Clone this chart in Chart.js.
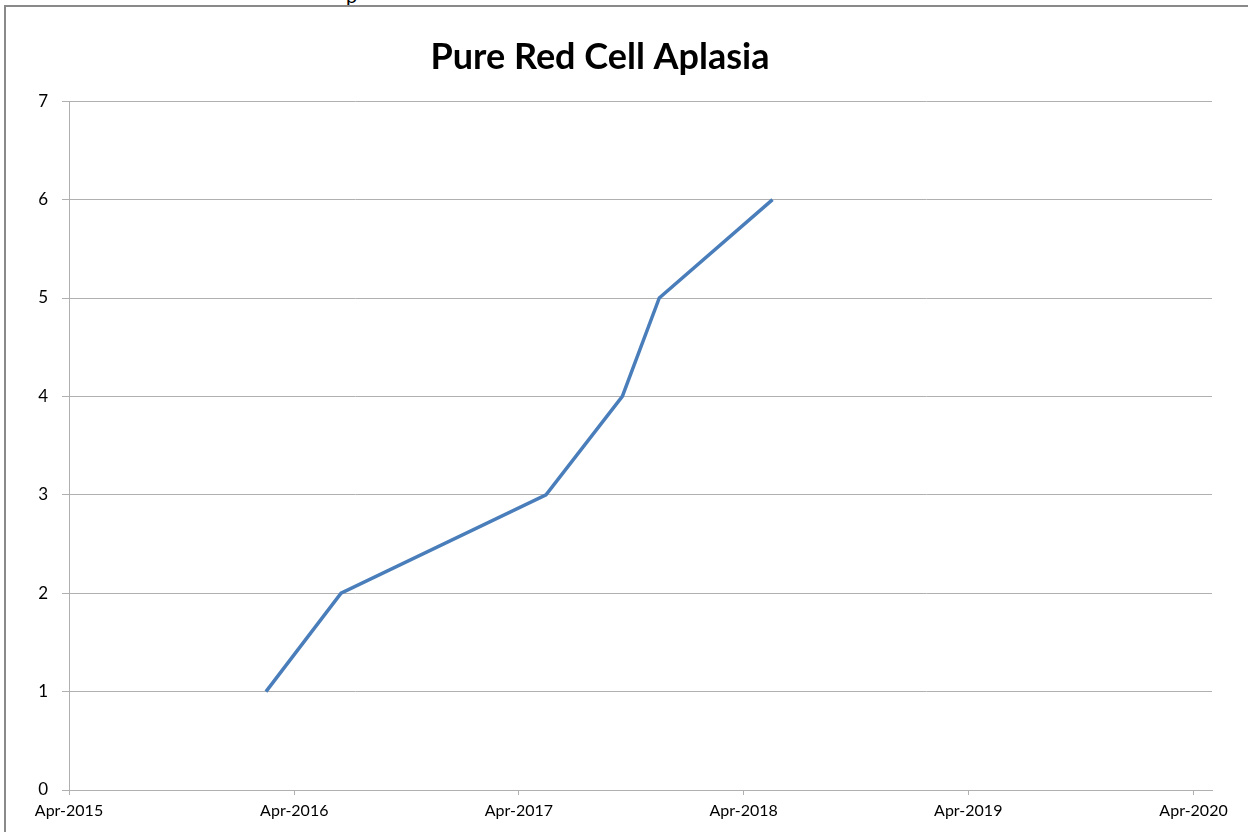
<!DOCTYPE html>
<html>
<head>
<meta charset="utf-8">
<script src="https://cdn.jsdelivr.net/npm/chart.js@4"></script>
<style>
  html, body { margin: 0; padding: 0; background: #fff; overflow: hidden; }
  #wrap { position: relative; width: 1248px; height: 832px; overflow: hidden; }
  #frame { position: absolute; left: 4px; top: 5px; width: 1300px; height: 900px; border: 2px solid #8a8a8a; box-sizing: border-box; }
  #cut { position: absolute; left: 346px; top: -17px; font: 20px Lato, sans-serif; color: #000; }
  canvas { position: absolute; left: 0; top: 0; }
</style>
</head>
<body>
<div id="wrap">
  <div id="cut">p</div>
  <div id="frame"></div>
  <canvas id="c" width="1248" height="832"></canvas>
</div>
<script>
const chartTitle = 'Pure Red Cell Aplasia';
const pointDates = ['2016-02-15', '2016-06-16', '2017-05-15', '2017-09-16', '2017-11-15', '2018-05-18'];
const caseCounts = [1, 2, 3, 4, 5, 6];
const tickDates = ['2015-04-01', '2016-04-01', '2017-04-01', '2018-04-01', '2019-04-01', '2020-04-01'];
const tickLabels = ['Apr-2015', 'Apr-2016', 'Apr-2017', 'Apr-2018', 'Apr-2019', 'Apr-2020'];
const axisStartDate = '2015-04-01';
const axisEndDate = '2020-05-01';

const DAY = 86400000;
const toDay = s => (Date.parse(s + 'T00:00:00Z') - Date.parse(axisStartDate + 'T00:00:00Z')) / DAY;
const tickDays = tickDates.map(toDay);
const points = pointDates.map((d, i) => ({ x: toDay(d), y: caseCounts[i] }));

new Chart(document.getElementById('c'), {
  type: 'line',
  data: {
    datasets: [{
      data: points,
      borderColor: '#4a7ebb',
      borderWidth: 3.5,
      pointRadius: 0,
      tension: 0,
      fill: false
    }]
  },
  options: {
    responsive: false,
    animation: false,
    layout: { padding: { left: -12, right: 36, top: 0, bottom: 0 } },
    plugins: {
      legend: { display: false },
      tooltip: { enabled: false },
      title: {
        display: true,
        text: chartTitle,
        color: '#000',
        font: { family: 'Lato', size: 36, weight: 'bold' },
        padding: { top: 36, bottom: 22 }
      }
    },
    scales: {
      x: {
        type: 'linear',
        min: 0,
        max: toDay(axisEndDate),
        afterBuildTicks: s => { s.ticks = tickDays.map(v => ({ value: v })); },
        afterFit: s => { s.height = 42; },
        grid: { drawOnChartArea: false, drawTicks: true, tickLength: 5, color: '#b0b0b0' },
        border: { color: '#b0b0b0', width: 1 },
        ticks: {
          color: '#000',
          font: { family: 'Lato', size: 16 },
          padding: 6,
          maxRotation: 0,
          autoSkip: false,
          callback: v => { const i = tickDays.indexOf(v); return i >= 0 ? tickLabels[i] : ''; }
        }
      },
      y: {
        min: 0,
        max: 7,
        afterFit: s => { s.width = 81; },
        grid: { color: '#b0b0b0', tickLength: 7 },
        border: { color: '#b0b0b0', width: 1 },
        ticks: {
          stepSize: 1,
          color: '#000',
          font: { family: 'Lato', size: 17 },
          padding: 14
        }
      }
    }
  }
});
</script>
</body>
</html>
